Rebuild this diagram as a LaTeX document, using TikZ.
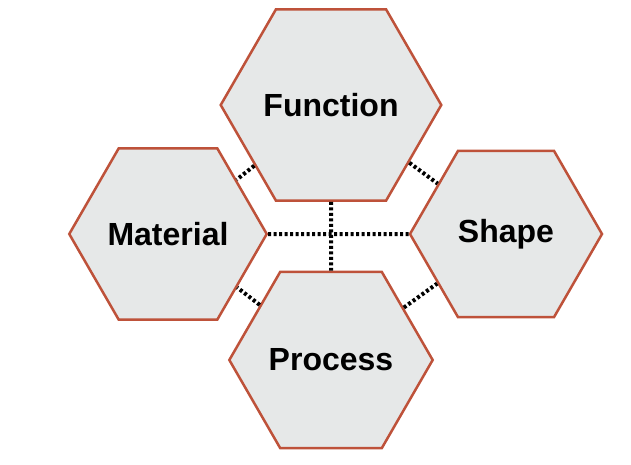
\documentclass[tikz,border=0pt]{standalone}
\usepackage{fontspec}
\setmainfont{Liberation Sans}
\usetikzlibrary{shapes.geometric}
\definecolor{hexfill}{RGB}{230,232,232}
\definecolor{hexline}{RGB}{190,82,58}

\begin{document}
\begin{tikzpicture}[x=1pt,y=-1pt]
    \tikzstyle{facet}=[regular polygon, regular polygon sides=6, minimum size=192pt,
        inner sep=0pt, fill=hexfill, draw=hexline, line width=2.5pt,
        font=\fontsize{32}{34}\selectfont\bfseries]
    \tikzstyle{link}=[draw=black, line width=4pt, dash pattern=on 3pt off 2.5pt]

    \useasboundingbox (0,0) rectangle (631,465);

    % the four facets
    \node[facet] (function) at (331,105) {Function};
    \node[facet] (material) at (168,234) {Material};
    \node[facet] (shape)    at (506,234) {Shape};
    \node[facet] (process)  at (331,360) {Process};

    % dotted links
    \path[link] (material) -- (shape);
    \path[link] (function) -- (process);
    \foreach \a / \b in {function/material, function/shape, process/material, process/shape}
        \path[link] (\a) -- (\b);
\end{tikzpicture}
\end{document}
